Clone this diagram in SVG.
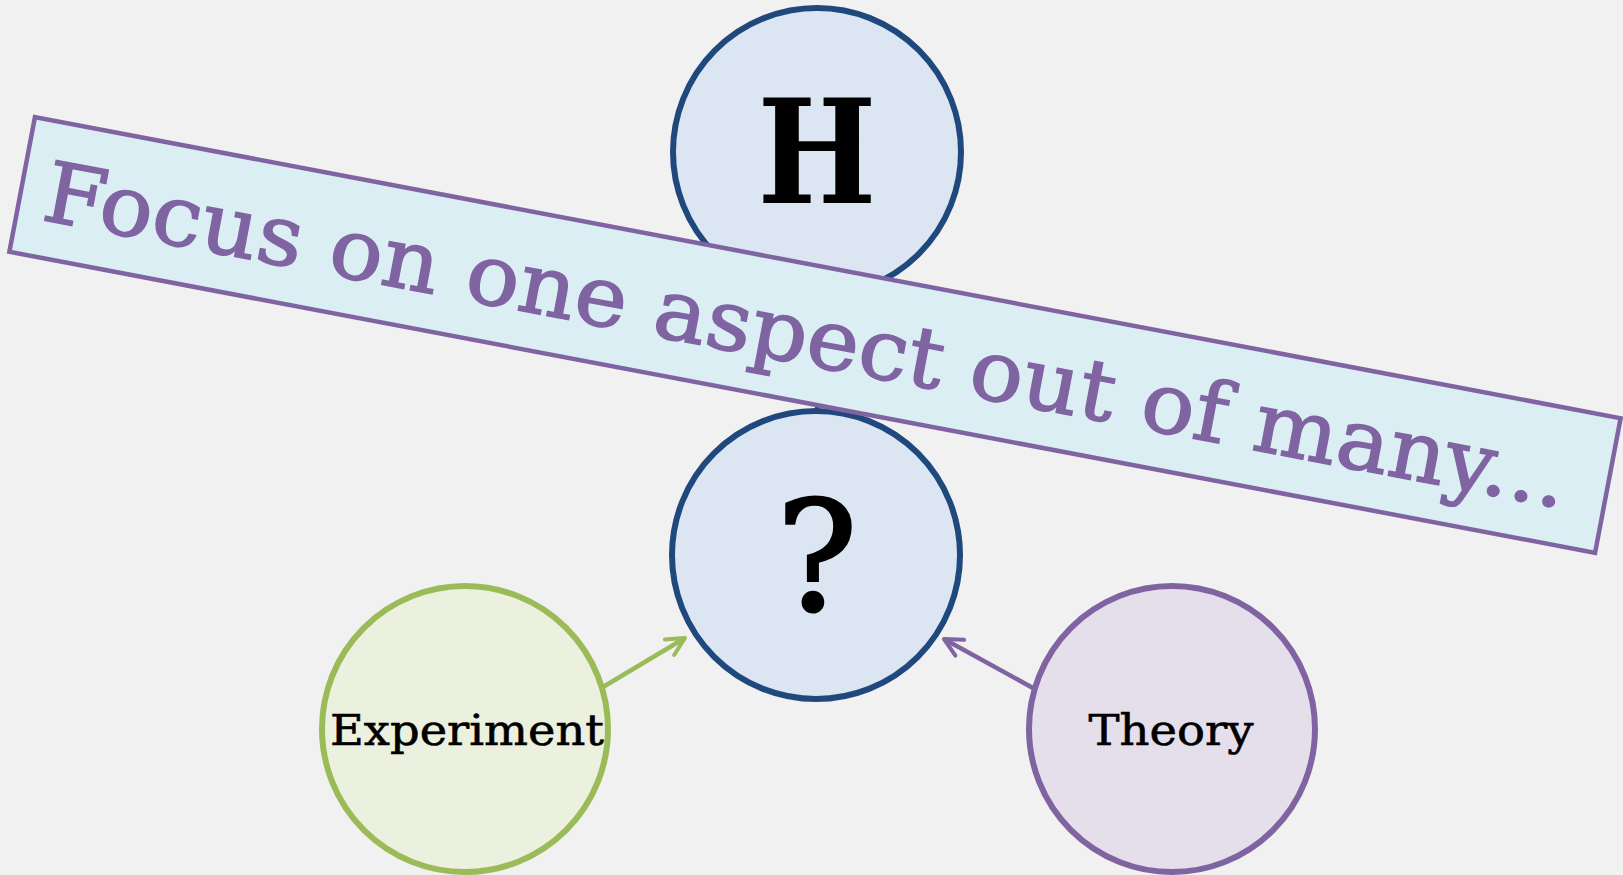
<svg xmlns="http://www.w3.org/2000/svg" width="1623" height="875" viewBox="0 0 1623 875">
<style>
.node-blue{fill:#dce6f2;stroke:#1f497d;stroke-width:6}
.node-green{fill:#ebf1de;stroke:#9bbb59;stroke-width:6}
.node-purple{fill:#e5dfec;stroke:#8064a2;stroke-width:6}
.lbl{font-family:"DejaVu Serif","Liberation Serif",serif;font-style:normal;fill:#000;text-anchor:middle}
.banner{fill:#daeef3;stroke:#8064a2;stroke-width:4.5}
.btext{font-family:"DejaVu Serif","Liberation Serif",serif;font-style:normal;fill:#8064a2;stroke:#8064a2;stroke-width:1.5}
</style>
<defs>
<marker id="arrG" viewBox="0 0 24 24" refX="21" refY="12" markerWidth="24" markerHeight="24" markerUnits="userSpaceOnUse" orient="auto">
<path d="M3,3 L21,12 L3,21" fill="none" stroke="#9bbb59" stroke-width="4" stroke-linecap="round" stroke-linejoin="round"/>
</marker>
<marker id="arrP" viewBox="0 0 24 24" refX="21" refY="12" markerWidth="24" markerHeight="24" markerUnits="userSpaceOnUse" orient="auto">
<path d="M3,3 L21,12 L3,21" fill="none" stroke="#8064a2" stroke-width="4" stroke-linecap="round" stroke-linejoin="round"/>
</marker>
</defs>
<rect x="0" y="0" width="1623" height="875" fill="#f1f1f1"/>
<g id="connectors">
<line x1="817" y1="297" x2="817" y2="410" stroke="#1f497d" stroke-width="4"/>
<line x1="603" y1="687" x2="685" y2="638" stroke="#9bbb59" stroke-width="4.5" marker-end="url(#arrG)"/>
<line x1="1033" y1="688" x2="944" y2="639" stroke="#8064a2" stroke-width="4.5" marker-end="url(#arrP)"/>
</g>
<g id="node-H">
<circle class="node-blue" cx="817" cy="152" r="144"/>
<text class="lbl" x="817" y="203" font-size="145" font-weight="bold" textLength="119" lengthAdjust="spacingAndGlyphs">H</text>
</g>
<g id="node-question">
<circle class="node-blue" cx="816" cy="555" r="144"/>
<text class="lbl" x="817" y="610" font-size="152" textLength="81" lengthAdjust="spacingAndGlyphs" stroke="#000" stroke-width="3">?</text>
</g>
<g id="node-experiment">
<circle class="node-green" cx="465" cy="729" r="143"/>
<text class="lbl" x="467" y="745" font-size="42" textLength="274" lengthAdjust="spacingAndGlyphs" stroke="#000" stroke-width="0.6">Experiment</text>
</g>
<g id="node-theory">
<circle class="node-purple" cx="1172" cy="729" r="143"/>
<text class="lbl" x="1171" y="745" font-size="42" textLength="165" lengthAdjust="spacingAndGlyphs" stroke="#000" stroke-width="0.6">Theory</text>
</g>
<g id="banner" transform="translate(815,335) rotate(10.75)">
<rect class="banner" x="-807" y="-68.5" width="1614" height="137"/>
<text class="btext" x="-783" y="31" font-size="84" textLength="1549" lengthAdjust="spacingAndGlyphs">Focus on one aspect out of many...</text>
</g>
</svg>
